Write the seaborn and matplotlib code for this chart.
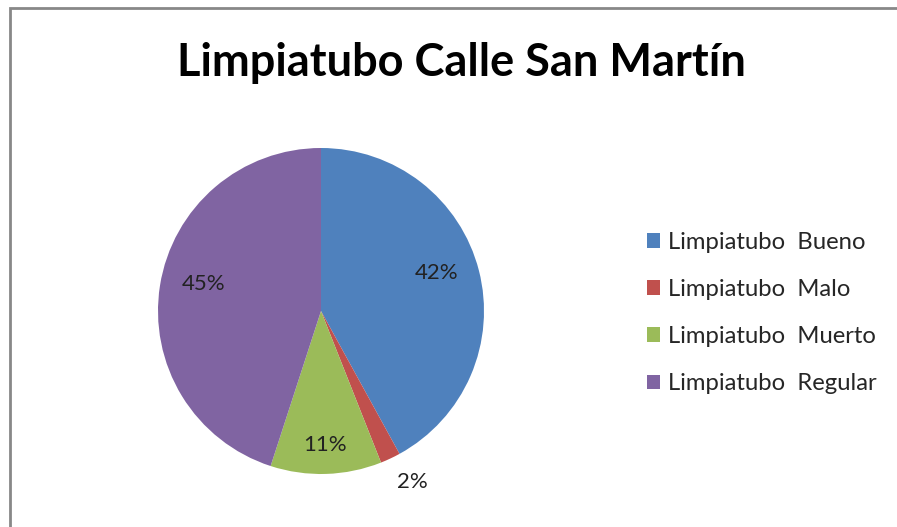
import matplotlib.pyplot as plt
import matplotlib.patches as mpatches
import seaborn as sns
import numpy as np

# Data
categories = ['Limpiatubo  Bueno', 'Limpiatubo  Malo', 'Limpiatubo  Muerto', 'Limpiatubo  Regular']
shares = [42, 2, 11, 45]
colors = ['#4F81BD', '#C0504D', '#9BBB59', '#8064A2']
title = 'Limpiatubo Calle San Martín'

sns.set_theme(style="white")
plt.rcParams['font.family'] = ['Lato', 'DejaVu Sans']

W, H = 897, 527
fig = plt.figure(figsize=(W / 100, H / 100), dpi=100)

# chart border (Excel style frame, cut off at right/bottom)
fig.add_artist(mpatches.Rectangle((10 / W, -0.1), 1.2, 1 - 8 / H + 0.1,
                                  transform=fig.transFigure, fill=False,
                                  edgecolor='#888888', linewidth=2))

# pie axes: center (321, 311) px, radius 163 px
cx, cy, r = 321, 311, 163
ax = fig.add_axes([(cx - r) / W, (H - cy - r) / H, 2 * r / W, 2 * r / H])
wedges, texts, autotexts = ax.pie(shares, colors=colors, startangle=90, counterclock=False,
                                  autopct='%1.0f%%', pctdistance=0.76, radius=1,
                                  wedgeprops=dict(linewidth=0),
                                  textprops=dict(fontsize=16, color='#222222'))
ax.set_xlim(-1, 1)
ax.set_ylim(-1, 1)
ax.set_aspect('equal')
ax.axis('off')

# small slice label goes outside, others nudged like Excel's best fit
for w, t, v in zip(wedges, autotexts, shares):
    ang = np.deg2rad((w.theta1 + w.theta2) / 2)
    if v < 5:
        t.set_position((1.19 * np.cos(ang + 0.05), 1.19 * np.sin(ang + 0.05)))
    elif v < 20:
        t.set_position((0.82 * np.cos(ang), 0.82 * np.sin(ang)))
    else:
        x, y = t.get_position()
        t.set_position((x * 0.96, y + 0.045))

fig.text(461 / W, 1 - 63 / H, title, ha='center', va='center',
         fontsize=32.5, fontweight='bold', color='black')

handles = [mpatches.Patch(facecolor=c, edgecolor='none') for c in colors]
fig.legend(handles, categories, loc='center left', bbox_to_anchor=(625 / W, 1 - 313 / H),
           frameon=False, fontsize=17.2, handlelength=0.58, handleheight=0.58,
           handletextpad=0.33, labelspacing=1.1)

plt.savefig('out.png', dpi=100)
